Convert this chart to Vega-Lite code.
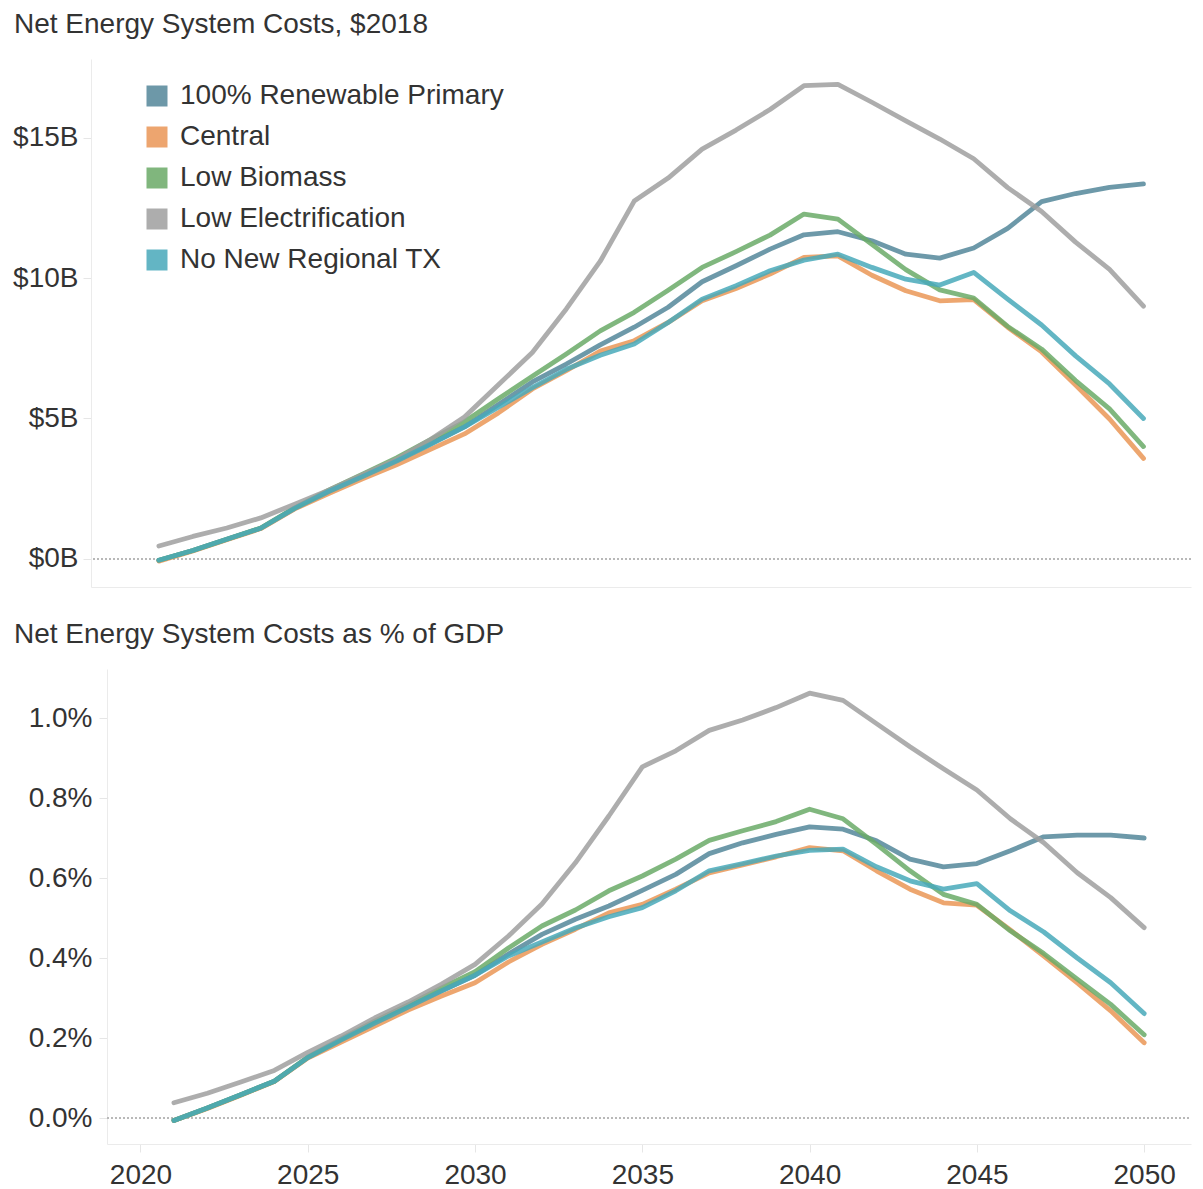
{
  "$schema": "https://vega.github.io/schema/vega-lite/v6.json",
  "padding": {"left": 12, "top": 11, "right": 13, "bottom": 0},
  "background": "white",
  "data": {"values": [
    {"s":"100% Renewable Primary","year":2021,"cost":-0.05,"pct":-0.006},
    {"s":"100% Renewable Primary","year":2022,"cost":0.30,"pct":0.025},
    {"s":"100% Renewable Primary","year":2023,"cost":0.70,"pct":0.058},
    {"s":"100% Renewable Primary","year":2024,"cost":1.09,"pct":0.092},
    {"s":"100% Renewable Primary","year":2025,"cost":1.80,"pct":0.151},
    {"s":"100% Renewable Primary","year":2026,"cost":2.40,"pct":0.195},
    {"s":"100% Renewable Primary","year":2027,"cost":2.95,"pct":0.237},
    {"s":"100% Renewable Primary","year":2028,"cost":3.50,"pct":0.277},
    {"s":"100% Renewable Primary","year":2029,"cost":4.10,"pct":0.318},
    {"s":"100% Renewable Primary","year":2030,"cost":4.70,"pct":0.357},
    {"s":"100% Renewable Primary","year":2031,"cost":5.50,"pct":0.410},
    {"s":"100% Renewable Primary","year":2032,"cost":6.30,"pct":0.459},
    {"s":"100% Renewable Primary","year":2033,"cost":6.94,"pct":0.497},
    {"s":"100% Renewable Primary","year":2034,"cost":7.62,"pct":0.530},
    {"s":"100% Renewable Primary","year":2035,"cost":8.25,"pct":0.569},
    {"s":"100% Renewable Primary","year":2036,"cost":8.96,"pct":0.609},
    {"s":"100% Renewable Primary","year":2037,"cost":9.87,"pct":0.661},
    {"s":"100% Renewable Primary","year":2038,"cost":10.44,"pct":0.688},
    {"s":"100% Renewable Primary","year":2039,"cost":11.03,"pct":0.709},
    {"s":"100% Renewable Primary","year":2040,"cost":11.54,"pct":0.728},
    {"s":"100% Renewable Primary","year":2041,"cost":11.65,"pct":0.722},
    {"s":"100% Renewable Primary","year":2042,"cost":11.33,"pct":0.693},
    {"s":"100% Renewable Primary","year":2043,"cost":10.85,"pct":0.647},
    {"s":"100% Renewable Primary","year":2044,"cost":10.71,"pct":0.628},
    {"s":"100% Renewable Primary","year":2045,"cost":11.07,"pct":0.636},
    {"s":"100% Renewable Primary","year":2046,"cost":11.77,"pct":0.668},
    {"s":"100% Renewable Primary","year":2047,"cost":12.72,"pct":0.703},
    {"s":"100% Renewable Primary","year":2048,"cost":13.01,"pct":0.707},
    {"s":"100% Renewable Primary","year":2049,"cost":13.23,"pct":0.707},
    {"s":"100% Renewable Primary","year":2050,"cost":13.35,"pct":0.700},
    {"s":"Central","year":2021,"cost":-0.08,"pct":-0.006},
    {"s":"Central","year":2022,"cost":0.28,"pct":0.024},
    {"s":"Central","year":2023,"cost":0.68,"pct":0.057},
    {"s":"Central","year":2024,"cost":1.08,"pct":0.091},
    {"s":"Central","year":2025,"cost":1.78,"pct":0.150},
    {"s":"Central","year":2026,"cost":2.33,"pct":0.190},
    {"s":"Central","year":2027,"cost":2.85,"pct":0.230},
    {"s":"Central","year":2028,"cost":3.35,"pct":0.270},
    {"s":"Central","year":2029,"cost":3.90,"pct":0.305},
    {"s":"Central","year":2030,"cost":4.45,"pct":0.338},
    {"s":"Central","year":2031,"cost":5.20,"pct":0.390},
    {"s":"Central","year":2032,"cost":6.05,"pct":0.434},
    {"s":"Central","year":2033,"cost":6.70,"pct":0.472},
    {"s":"Central","year":2034,"cost":7.40,"pct":0.513},
    {"s":"Central","year":2035,"cost":7.77,"pct":0.534},
    {"s":"Central","year":2036,"cost":8.42,"pct":0.572},
    {"s":"Central","year":2037,"cost":9.19,"pct":0.613},
    {"s":"Central","year":2038,"cost":9.63,"pct":0.633},
    {"s":"Central","year":2039,"cost":10.14,"pct":0.653},
    {"s":"Central","year":2040,"cost":10.74,"pct":0.676},
    {"s":"Central","year":2041,"cost":10.79,"pct":0.668},
    {"s":"Central","year":2042,"cost":10.10,"pct":0.618},
    {"s":"Central","year":2043,"cost":9.55,"pct":0.572},
    {"s":"Central","year":2044,"cost":9.19,"pct":0.538},
    {"s":"Central","year":2045,"cost":9.23,"pct":0.532},
    {"s":"Central","year":2046,"cost":8.25,"pct":0.470},
    {"s":"Central","year":2047,"cost":7.37,"pct":0.405},
    {"s":"Central","year":2048,"cost":6.19,"pct":0.338},
    {"s":"Central","year":2049,"cost":4.98,"pct":0.268},
    {"s":"Central","year":2050,"cost":3.58,"pct":0.188},
    {"s":"Low Biomass","year":2021,"cost":-0.05,"pct":-0.006},
    {"s":"Low Biomass","year":2022,"cost":0.30,"pct":0.025},
    {"s":"Low Biomass","year":2023,"cost":0.70,"pct":0.058},
    {"s":"Low Biomass","year":2024,"cost":1.10,"pct":0.092},
    {"s":"Low Biomass","year":2025,"cost":1.82,"pct":0.152},
    {"s":"Low Biomass","year":2026,"cost":2.45,"pct":0.198},
    {"s":"Low Biomass","year":2027,"cost":3.02,"pct":0.242},
    {"s":"Low Biomass","year":2028,"cost":3.60,"pct":0.283},
    {"s":"Low Biomass","year":2029,"cost":4.25,"pct":0.325},
    {"s":"Low Biomass","year":2030,"cost":4.88,"pct":0.366},
    {"s":"Low Biomass","year":2031,"cost":5.70,"pct":0.425},
    {"s":"Low Biomass","year":2032,"cost":6.50,"pct":0.480},
    {"s":"Low Biomass","year":2033,"cost":7.30,"pct":0.520},
    {"s":"Low Biomass","year":2034,"cost":8.12,"pct":0.568},
    {"s":"Low Biomass","year":2035,"cost":8.78,"pct":0.605},
    {"s":"Low Biomass","year":2036,"cost":9.57,"pct":0.647},
    {"s":"Low Biomass","year":2037,"cost":10.38,"pct":0.694},
    {"s":"Low Biomass","year":2038,"cost":10.94,"pct":0.718},
    {"s":"Low Biomass","year":2039,"cost":11.53,"pct":0.741},
    {"s":"Low Biomass","year":2040,"cost":12.28,"pct":0.772},
    {"s":"Low Biomass","year":2041,"cost":12.10,"pct":0.748},
    {"s":"Low Biomass","year":2042,"cost":11.20,"pct":0.684},
    {"s":"Low Biomass","year":2043,"cost":10.30,"pct":0.618},
    {"s":"Low Biomass","year":2044,"cost":9.58,"pct":0.559},
    {"s":"Low Biomass","year":2045,"cost":9.29,"pct":0.534},
    {"s":"Low Biomass","year":2046,"cost":8.28,"pct":0.468},
    {"s":"Low Biomass","year":2047,"cost":7.47,"pct":0.411},
    {"s":"Low Biomass","year":2048,"cost":6.35,"pct":0.347},
    {"s":"Low Biomass","year":2049,"cost":5.34,"pct":0.284},
    {"s":"Low Biomass","year":2050,"cost":4.00,"pct":0.208},
    {"s":"Low Electrification","year":2021,"cost":0.46,"pct":0.038},
    {"s":"Low Electrification","year":2022,"cost":0.80,"pct":0.062},
    {"s":"Low Electrification","year":2023,"cost":1.10,"pct":0.090},
    {"s":"Low Electrification","year":2024,"cost":1.46,"pct":0.119},
    {"s":"Low Electrification","year":2025,"cost":1.95,"pct":0.164},
    {"s":"Low Electrification","year":2026,"cost":2.45,"pct":0.205},
    {"s":"Low Electrification","year":2027,"cost":3.00,"pct":0.250},
    {"s":"Low Electrification","year":2028,"cost":3.55,"pct":0.290},
    {"s":"Low Electrification","year":2029,"cost":4.25,"pct":0.335},
    {"s":"Low Electrification","year":2030,"cost":5.05,"pct":0.384},
    {"s":"Low Electrification","year":2031,"cost":6.20,"pct":0.455},
    {"s":"Low Electrification","year":2032,"cost":7.35,"pct":0.535},
    {"s":"Low Electrification","year":2033,"cost":8.90,"pct":0.638},
    {"s":"Low Electrification","year":2034,"cost":10.60,"pct":0.755},
    {"s":"Low Electrification","year":2035,"cost":12.74,"pct":0.878},
    {"s":"Low Electrification","year":2036,"cost":13.56,"pct":0.918},
    {"s":"Low Electrification","year":2037,"cost":14.59,"pct":0.969},
    {"s":"Low Electrification","year":2038,"cost":15.27,"pct":0.995},
    {"s":"Low Electrification","year":2039,"cost":16.00,"pct":1.026},
    {"s":"Low Electrification","year":2040,"cost":16.85,"pct":1.062},
    {"s":"Low Electrification","year":2041,"cost":16.90,"pct":1.044},
    {"s":"Low Electrification","year":2042,"cost":16.26,"pct":0.986},
    {"s":"Low Electrification","year":2043,"cost":15.60,"pct":0.928},
    {"s":"Low Electrification","year":2044,"cost":14.95,"pct":0.873},
    {"s":"Low Electrification","year":2045,"cost":14.25,"pct":0.820},
    {"s":"Low Electrification","year":2046,"cost":13.22,"pct":0.748},
    {"s":"Low Electrification","year":2047,"cost":12.37,"pct":0.688},
    {"s":"Low Electrification","year":2048,"cost":11.28,"pct":0.613},
    {"s":"Low Electrification","year":2049,"cost":10.31,"pct":0.551},
    {"s":"Low Electrification","year":2050,"cost":9.00,"pct":0.476},
    {"s":"No New Regional TX","year":2021,"cost":-0.05,"pct":-0.006},
    {"s":"No New Regional TX","year":2022,"cost":0.30,"pct":0.025},
    {"s":"No New Regional TX","year":2023,"cost":0.70,"pct":0.058},
    {"s":"No New Regional TX","year":2024,"cost":1.09,"pct":0.092},
    {"s":"No New Regional TX","year":2025,"cost":1.80,"pct":0.151},
    {"s":"No New Regional TX","year":2026,"cost":2.40,"pct":0.195},
    {"s":"No New Regional TX","year":2027,"cost":2.93,"pct":0.237},
    {"s":"No New Regional TX","year":2028,"cost":3.48,"pct":0.277},
    {"s":"No New Regional TX","year":2029,"cost":4.08,"pct":0.318},
    {"s":"No New Regional TX","year":2030,"cost":4.70,"pct":0.357},
    {"s":"No New Regional TX","year":2031,"cost":5.40,"pct":0.405},
    {"s":"No New Regional TX","year":2032,"cost":6.10,"pct":0.440},
    {"s":"No New Regional TX","year":2033,"cost":6.75,"pct":0.475},
    {"s":"No New Regional TX","year":2034,"cost":7.25,"pct":0.503},
    {"s":"No New Regional TX","year":2035,"cost":7.65,"pct":0.526},
    {"s":"No New Regional TX","year":2036,"cost":8.42,"pct":0.568},
    {"s":"No New Regional TX","year":2037,"cost":9.25,"pct":0.618},
    {"s":"No New Regional TX","year":2038,"cost":9.73,"pct":0.636},
    {"s":"No New Regional TX","year":2039,"cost":10.26,"pct":0.655},
    {"s":"No New Regional TX","year":2040,"cost":10.64,"pct":0.669},
    {"s":"No New Regional TX","year":2041,"cost":10.85,"pct":0.672},
    {"s":"No New Regional TX","year":2042,"cost":10.38,"pct":0.628},
    {"s":"No New Regional TX","year":2043,"cost":9.96,"pct":0.593},
    {"s":"No New Regional TX","year":2044,"cost":9.75,"pct":0.572},
    {"s":"No New Regional TX","year":2045,"cost":10.20,"pct":0.586},
    {"s":"No New Regional TX","year":2046,"cost":9.25,"pct":0.518},
    {"s":"No New Regional TX","year":2047,"cost":8.33,"pct":0.465},
    {"s":"No New Regional TX","year":2048,"cost":7.23,"pct":0.400},
    {"s":"No New Regional TX","year":2049,"cost":6.23,"pct":0.338},
    {"s":"No New Regional TX","year":2050,"cost":5.00,"pct":0.261}
  ]},
  "spacing": 34,
  "resolve": {"scale": {"x": "independent", "y": "independent", "color": "independent"}},
  "vconcat": [
    {
      "width": 1100,
      "height": 528,
      "title": {"text": "Net Energy System Costs, $2018", "anchor": "start", "frame": "group", "dx": -77, "baseline": "alphabetic", "offset": -2},
      "layer": [
        {
          "mark": {"type": "rule", "color": "#b8b8b8", "strokeDash": [2, 2], "strokeWidth": 1},
          "encoding": {"y": {"datum": 0, "type": "quantitative", "title": null}}
        },
        {
          "mark": {"type": "line", "strokeWidth": 4.8, "opacity": 0.85, "strokeCap": "round", "strokeJoin": "round"},
          "encoding": {
            "x": {"field": "year", "type": "quantitative", "title": null,
                  "scale": {"domain": [2019, 2051.4], "nice": false, "zero": false},
                  "axis": {"labels": false, "ticks": false, "grid": false, "domainColor": "#ebebeb"}},
            "y": {"field": "cost", "type": "quantitative", "title": null,
                  "scale": {"domain": [-1, 17.8], "nice": false, "zero": false},
                  "axis": {"values": [0, 5, 10, 15], "labelExpr": "'$' + datum.value + 'B'", "grid": false, "tickSize": 8, "labelPadding": 5, "domainColor": "#ebebeb", "tickColor": "#e6e6e6"}},
            "color": {"field": "s", "type": "nominal",
                      "scale": {"domain": ["100% Renewable Primary", "Central", "Low Biomass", "Low Electrification", "No New Regional TX"],
                                "range": ["#54879A", "#EA9656", "#6AAA67", "#9F9F9F", "#48A9BA"]},
                      "legend": {"orient": "none", "legendX": 52, "legendY": 23, "title": null, "symbolType": "square", "symbolSize": 110.25, "symbolStrokeWidth": 10.5, "labelFontSize": 28, "labelColor": "#333333", "labelFont": "Liberation Sans", "labelLimit": 0, "rowPadding": -38.8, "labelOffset": 9, "padding": 0}}
          }
        }
      ]
    },
    {
      "width": 1100,
      "height": 475,
      "title": {"text": "Net Energy System Costs as % of GDP", "anchor": "start", "frame": "group", "dx": -77, "baseline": "alphabetic", "offset": -2},
      "layer": [
        {
          "mark": {"type": "rule", "color": "#b8b8b8", "strokeDash": [2, 2], "strokeWidth": 1},
          "encoding": {"y": {"datum": 0, "type": "quantitative", "title": null}, "x": {"datum": 2019}, "x2": {"datum": 2051.4}}
        },
        {
          "mark": {"type": "line", "strokeWidth": 4.8, "opacity": 0.85, "strokeCap": "round", "strokeJoin": "round"},
          "encoding": {
            "x": {"field": "year", "type": "quantitative", "title": null,
                  "scale": {"domain": [2019, 2051.4], "nice": false, "zero": false, "range": [16, 1100]},
                  "axis": {"values": [2020, 2025, 2030, 2035, 2040, 2045, 2050], "format": "d", "grid": false, "tickSize": 8, "labelPadding": 9, "labelFlush": false, "domainColor": "#ebebeb", "tickColor": "#e6e6e6"}},
            "y": {"field": "pct", "type": "quantitative", "title": null,
                  "scale": {"domain": [-0.065, 1.1225], "nice": false, "zero": false},
                  "axis": {"values": [0, 0.2, 0.4, 0.6, 0.8, 1.0], "labelExpr": "format(datum.value, '.1f') + '%'", "grid": false, "tickSize": 8, "labelPadding": 7, "offset": -16, "domainColor": "#ebebeb", "tickColor": "#e6e6e6"}},
            "color": {"field": "s", "type": "nominal",
                      "scale": {"domain": ["100% Renewable Primary", "Central", "Low Biomass", "Low Electrification", "No New Regional TX"],
                                "range": ["#54879A", "#EA9656", "#6AAA67", "#9F9F9F", "#48A9BA"]},
                      "legend": null}
          }
        }
      ]
    }
  ],
  "config": {
    "view": {"stroke": null},
    "font": "Liberation Sans",
    "axis": {"labelFontSize": 28, "labelColor": "#333333", "labelFont": "Liberation Sans"},
    "title": {"fontSize": 28, "font": "Liberation Sans", "color": "#333333", "fontWeight": "normal"}
  }
}
